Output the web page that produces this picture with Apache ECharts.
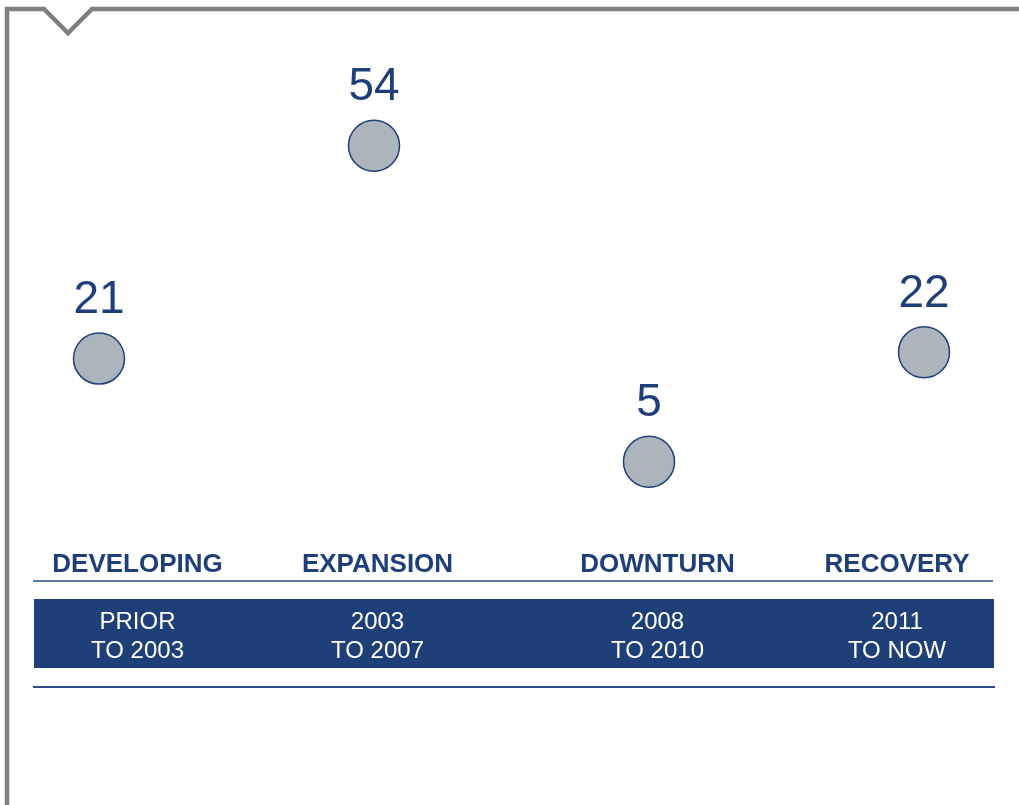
<!DOCTYPE html>
<html>
<head>
<meta charset="utf-8">
<script src="https://cdn.jsdelivr.net/npm/echarts@6/dist/echarts.min.js"></script>
<style>
html,body{margin:0;padding:0;background:#fff;}
#main{width:1019px;height:805px;}
</style>
</head>
<body>
<div id="main"></div>
<script>
var phases = ['DEVELOPING', 'EXPANSION', 'DOWNTURN', 'RECOVERY'];
var periods = ['PRIOR\nTO 2003', '2003\nTO 2007', '2008\nTO 2010', '2011\nTO NOW'];
var values = [21, 54, 5, 22];

var BLUE = '#1f3f78';
var chart = echarts.init(document.getElementById('main'));

// layout of header / band cells (pixel centres)
var cellCenters = [137.5, 377.5, 657.5, 897];

var graphics = [
  // frame
  {type:'polyline', shape:{points:[[7,805],[7,9],[44,9],[68,33],[92,9],[1019,9]]},
   style:{stroke:'#7f7f7f', lineWidth:4.5, fill:null}, z:10},
  // upper rule
  {type:'line', shape:{x1:33,y1:581,x2:993,y2:581}, style:{stroke:'#5b78a8', lineWidth:2}},
  // band
  {type:'rect', shape:{x:34,y:599,width:960,height:69}, style:{fill:BLUE}},
  // lower rule
  {type:'line', shape:{x1:33,y1:687,x2:995,y2:687}, style:{stroke:'#2c4c88', lineWidth:2}}
];
phases.forEach(function(p, i){
  graphics.push({type:'text', x:cellCenters[i], y:565,
    style:{text:p, fill:BLUE, font:'bold 26px "Liberation Sans", Arial, sans-serif',
      textAlign:'center', textVerticalAlign:'middle'}});
});
periods.forEach(function(p, i){
  graphics.push({type:'text', x:cellCenters[i], y:637,
    style:{text:p, fill:'#ffffff', font:'24px "Liberation Sans", Arial, sans-serif',
      lineHeight:29, textAlign:'center', textVerticalAlign:'middle'}});
});

chart.setOption({
  animation:false,
  grid:{left:99, right:95, top:42.6, bottom:311},
  xAxis:{type:'value', min:0, max:3, show:false},
  yAxis:{type:'value', min:0, max:70, show:false},
  series:[{
    type:'scatter',
    clip:false,
    symbolSize:51,
    data: values.map(function(v, i){ return [i, v]; }),
    itemStyle:{color:'#adb5bc', borderColor:BLUE, borderWidth:1.5, opacity:1},
    label:{show:true, position:'top', distance:9,
      formatter:function(p){ return p.value[1]; },
      color:BLUE, fontSize:46, fontFamily:'"Liberation Sans", Arial, sans-serif'}
  }],
  graphic: graphics
});
</script>
</body>
</html>
